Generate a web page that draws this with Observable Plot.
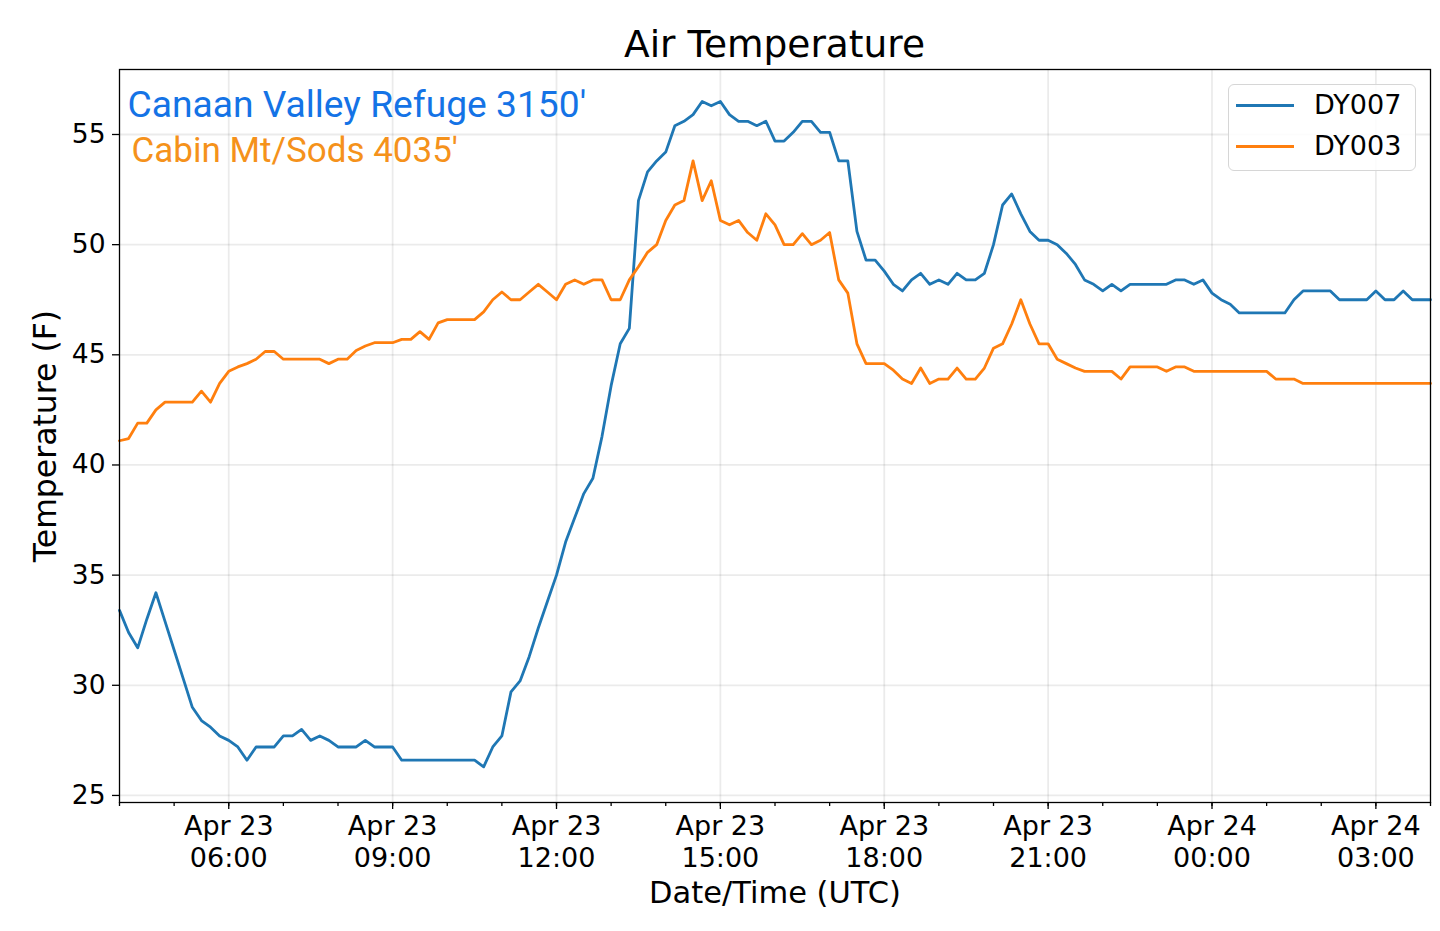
<!DOCTYPE html>
<html>
<head>
<meta charset="utf-8">
<script src="https://cdn.jsdelivr.net/npm/d3@7"></script>
<script src="https://cdn.jsdelivr.net/npm/@observablehq/plot@0.6"></script>
<style>
  html, body { margin: 0; padding: 0; background: #fff; }
  body { width: 1440px; height: 931px; overflow: hidden; position: relative; font-family: "DejaVu Sans", sans-serif; color: #000; }
  #title { position: absolute; left: 119px; width: 1311px; top: 22px; line-height: 44px; text-align: center; font-size: 37.5px; }
  #chart { position: absolute; left: 0; top: 66px; }
  #legend { position: absolute; left: 1228px; top: 84px; width: 188px; height: 87px; box-sizing: border-box;
            border: 1.5px solid #d6d6d6; border-radius: 6px; background: rgba(255,255,255,0.85); }
  .lg-line { position: absolute; left: 7px; width: 58px; height: 3px; }
  .lg-text { position: absolute; left: 85px; font-size: 27px; line-height: 32px; white-space: nowrap; }
</style>
</head>
<body>
<div id="title"></div>
<div id="chart"></div>
<div id="legend"></div>
<script>
// ---------- data (10‑minute readings, °F) ----------
const startTime = "2021-04-23T04:00:00Z";
const stepMinutes = 10;
const seriesNames = ["DY007", "DY003"];
const seriesColors = ["#1f77b4", "#ff7f0e"];
const siteLabels = ["Canaan Valley Refuge 3150'", "Cabin Mt/Sods 4035'"];
const siteLabelColors = ["#1473e6", "#f5921b"];

const dy007 = [
  33.4, 32.4, 31.7, 33.0, 34.2, 32.9, 31.6, 30.3, 29.0, 28.4,
  28.1, 27.7, 27.5, 27.2, 26.6, 27.2, 27.2, 27.2, 27.7, 27.7,
  28.0, 27.5, 27.7, 27.5, 27.2, 27.2, 27.2, 27.5, 27.2, 27.2,
  27.2, 26.6, 26.6, 26.6, 26.6, 26.6, 26.6, 26.6, 26.6, 26.6,
  26.3, 27.2, 27.7, 29.7, 30.2, 31.3, 32.6, 33.8, 35.0, 36.5,
  37.6, 38.7, 39.4, 41.3, 43.6, 45.5, 46.2, 52.0, 53.3, 53.8,
  54.2, 55.4, 55.6, 55.9, 56.5, 56.3, 56.5, 55.9, 55.6, 55.6,
  55.4, 55.6, 54.7, 54.7, 55.1, 55.6, 55.6, 55.1, 55.1, 53.8,
  53.8, 50.6, 49.3, 49.3, 48.8, 48.2, 47.9, 48.4, 48.7, 48.2,
  48.4, 48.2, 48.7, 48.4, 48.4, 48.7, 50.0, 51.8, 52.3, 51.4,
  50.6, 50.2, 50.2, 50.0, 49.6, 49.1, 48.4, 48.2, 47.9, 48.2,
  47.9, 48.2, 48.2, 48.2, 48.2, 48.2, 48.4, 48.4, 48.2, 48.4,
  47.8, 47.5, 47.3, 46.9, 46.9, 46.9, 46.9, 46.9, 46.9, 47.5,
  47.9, 47.9, 47.9, 47.9, 47.5, 47.5, 47.5, 47.5, 47.9, 47.5,
  47.5, 47.9, 47.5, 47.5, 47.5
];
const dy003 = [
  41.1, 41.2, 41.9, 41.9, 42.5, 42.85, 42.85, 42.85, 42.85, 43.35,
  42.85, 43.7, 44.25, 44.45, 44.6, 44.8, 45.15, 45.15, 44.8, 44.8,
  44.8, 44.8, 44.8, 44.6, 44.8, 44.8, 45.2, 45.4, 45.55, 45.55,
  45.55, 45.7, 45.7, 46.05, 45.7, 46.45, 46.6, 46.6, 46.6, 46.6,
  46.95, 47.5, 47.85, 47.5, 47.5, 47.85, 48.2, 47.85, 47.5, 48.2,
  48.4, 48.2, 48.4, 48.4, 47.5, 47.5, 48.4, 49.0, 49.65, 50.0,
  51.1, 51.8, 52.0, 53.8, 52.0, 52.9, 51.1, 50.9, 51.1, 50.55,
  50.2, 51.4, 50.9, 50.0, 50.0, 50.5, 50.0, 50.2, 50.55, 48.4,
  47.8, 45.5, 44.6, 44.6, 44.6, 44.3, 43.9, 43.7, 44.4, 43.7,
  43.9, 43.9, 44.4, 43.9, 43.9, 44.4, 45.3, 45.5, 46.4, 47.5,
  46.4, 45.5, 45.5, 44.8, 44.6, 44.4, 44.25, 44.25, 44.25, 44.25,
  43.9, 44.45, 44.45, 44.45, 44.45, 44.25, 44.45, 44.45, 44.25, 44.25,
  44.25, 44.25, 44.25, 44.25, 44.25, 44.25, 44.25, 43.9, 43.9, 43.9,
  43.7, 43.7, 43.7, 43.7, 43.7, 43.7, 43.7, 43.7, 43.7, 43.7,
  43.7, 43.7, 43.7, 43.7, 43.7
];

const xDomain = ["2021-04-23T04:00:00Z", "2021-04-24T04:00:00Z"];
const yDomain = [24.68, 57.95];
const yTicks = [25, 30, 35, 40, 45, 50, 55];
const xMajorTicks = ["2021-04-23T06:00:00Z", "2021-04-23T09:00:00Z", "2021-04-23T12:00:00Z", "2021-04-23T15:00:00Z",
                     "2021-04-23T18:00:00Z", "2021-04-23T21:00:00Z", "2021-04-24T00:00:00Z", "2021-04-24T03:00:00Z"];
const titleText = "Air Temperature";
const xLabel = "Date/Time (UTC)";
const yLabel = "Temperature (F)";

// ---------- build table ----------
const t0 = new Date(startTime).getTime();
const rows = [];
[dy007, dy003].forEach((arr, k) => {
  arr.forEach((v, i) => rows.push({ t: new Date(t0 + i * stepMinutes * 60000), v, s: seriesNames[k] }));
});
const majors = xMajorTicks.map(d => new Date(d));
const dom = xDomain.map(d => new Date(d));
const minors = d3.utcHour.range(dom[0], new Date(dom[1].getTime() + 1));
const fmt = d => d3.utcFormat("%b %d")(d) + "\n" + d3.utcFormat("%H:%M")(d);

document.getElementById("title").textContent = titleText;

const chart = Plot.plot({
  width: 1440, height: 865,
  marginTop: 3, marginLeft: 119, marginRight: 10, marginBottom: 129,
  style: { fontFamily: "DejaVu Sans", fontSize: "27px", color: "#000", background: "#fff", overflow: "visible" },
  x: { type: "utc", domain: dom },
  y: { domain: yDomain },
  color: { domain: seriesNames, range: seriesColors },
  marks: [
    Plot.gridX(majors, { stroke: "#000", strokeOpacity: 0.08, strokeWidth: 1.8 }),
    Plot.gridY(yTicks, { stroke: "#000", strokeOpacity: 0.08, strokeWidth: 1.8 }),
    Plot.axisX(minors, { tickSize: 4, tickFormat: () => "", strokeWidth: 1.3, label: null }),
    Plot.axisX(majors, { tickSize: 7, tickPadding: 3, tickFormat: fmt, lineHeight: 1.17, strokeWidth: 1.3, fontSize: 27, label: null }),
    Plot.axisY(yTicks, { tickSize: 7, tickPadding: 7, strokeWidth: 1.3, fontSize: 26.5, label: null }),
    Plot.lineY(rows, { x: "t", y: "v", z: "s", stroke: "s", strokeWidth: 2.8, strokeLinejoin: "round" }),
    Plot.text([siteLabels[0]], { text: d => d, frameAnchor: "top-left", textAnchor: "start", lineAnchor: "top", dx: 8, dy: 21.5,
      fill: siteLabelColors[0], fontFamily: "Roboto", fontSize: 37.2 }),
    Plot.text([siteLabels[1]], { text: d => d, frameAnchor: "top-left", textAnchor: "start", lineAnchor: "top", dx: 12, dy: 68,
      fill: siteLabelColors[1], fontFamily: "Roboto", fontSize: 35 }),
    Plot.text([xLabel], { text: d => d, frameAnchor: "bottom", lineAnchor: "middle", dy: 91, fontSize: 30.5 }),
    Plot.text([yLabel], { text: d => d, frameAnchor: "left", textAnchor: "middle", lineAnchor: "middle", rotate: -90, dx: -74, fontSize: 31.5 }),
    Plot.frame({ stroke: "#000", strokeWidth: 1.3 })
  ]
});
document.getElementById("chart").appendChild(chart);

// legend
const lg = document.getElementById("legend");
seriesNames.forEach((name, k) => {
  const cy = [20, 61][k];
  const line = document.createElement("div");
  line.className = "lg-line";
  line.style.top = (cy - 1.5) + "px";
  line.style.background = seriesColors[k];
  lg.appendChild(line);
  const tx = document.createElement("div");
  tx.className = "lg-text";
  tx.style.top = (cy - 16) + "px";
  tx.textContent = name;
  lg.appendChild(tx);
});
</script>
</body>
</html>
